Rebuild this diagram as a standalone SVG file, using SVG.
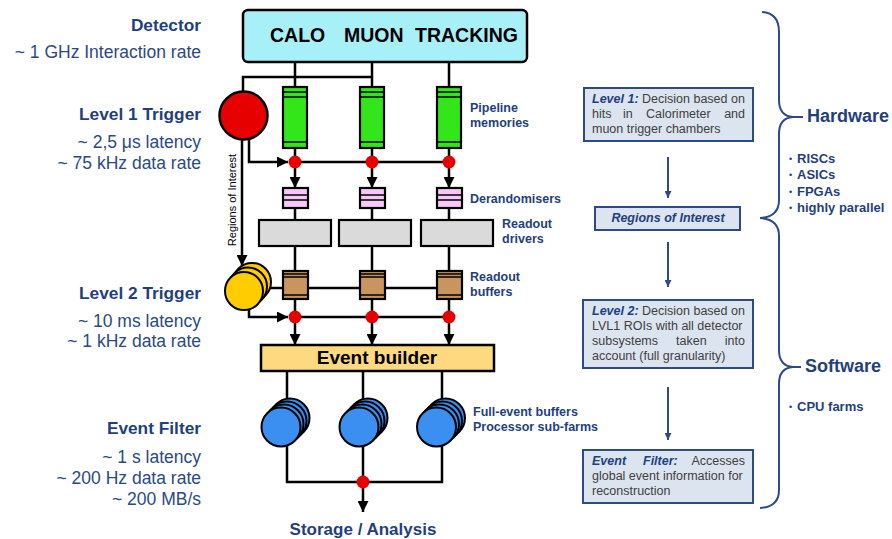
<svg xmlns="http://www.w3.org/2000/svg" width="892" height="539" viewBox="0 0 892 539">
<style>
  .ln{stroke:#000;stroke-width:2.5;fill:none}
  .box{stroke:#000;stroke-width:2.2}
  .in{stroke:#000;stroke-width:1.3}
  .dot{fill:#e60000}
  .lbl{font-family:"Liberation Sans",Arial,sans-serif;font-weight:bold;font-size:12.5px;fill:#1f3f7f}
  .lh{font-family:"Liberation Sans",Arial,sans-serif;font-weight:bold;font-size:17.3px;fill:#1f3f7f;text-anchor:end}
  .lr{font-family:"Liberation Sans",Arial,sans-serif;font-size:17.5px;fill:#2a4a85;text-anchor:end}
  .rb{fill:#dce4f0;stroke:#2e4a86;stroke-width:2}
  .rt{font-family:"Liberation Sans",Arial,sans-serif;font-size:12.5px;fill:#404040}
  .rh{font-weight:bold;font-style:italic;fill:#1f3f7f}
  .nav{stroke:#2e4a86;stroke-width:2;fill:none}
  .big{font-family:"Liberation Sans",Arial,sans-serif;font-weight:bold;font-size:18px;fill:#1f3f7f}
  .bul{font-family:"Liberation Sans",Arial,sans-serif;font-weight:bold;font-size:13px;fill:#1f3f7f}
  .bd{font-family:"Liberation Sans",Arial,sans-serif;font-size:9px;fill:#1f3f7f}
  .green{fill:#33e61a}.pink{fill:#f8c8f8}.grey{fill:#dadada}.brown{fill:#c8955e}
  .yel{fill:#ffcc00;stroke:#000;stroke-width:2}
  .blue{fill:#3a8ff0;stroke:#000;stroke-width:2}
</style>
<defs>
  <marker id="ah" viewBox="0 0 10 10" refX="10" refY="5" markerWidth="12" markerHeight="11" markerUnits="userSpaceOnUse" orient="auto">
    <path d="M0,0 L10,5 L0,10 z" fill="#000"/>
  </marker>
  <marker id="nh" viewBox="0 0 10 10" refX="10" refY="5" markerWidth="8" markerHeight="7" markerUnits="userSpaceOnUse" orient="auto">
    <path d="M0,0 L10,5 L0,10 z" fill="#2e4a86"/>
  </marker>
</defs>
<rect width="892" height="539" fill="#fff"/>

<g id="connectors">
  <path class="ln" d="M295,62 V87 M372,62 V87 M449,62 V87"/>
  <path class="ln" d="M243,92 V77 H373"/>
  <path class="ln" d="M295,148 V162 M372,148 V162 M449,148 V162"/>
  <path class="ln" d="M295,162 H449"/>
  <path class="ln" d="M249,138 V162 H288" marker-end="url(#ah)"/>
  <path class="ln" d="M295,168 V188" marker-end="url(#ah)"/>
  <path class="ln" d="M372,168 V188" marker-end="url(#ah)"/>
  <path class="ln" d="M449,168 V188" marker-end="url(#ah)"/>
  <path class="ln" d="M295,208 V271 M372,208 V271 M449,208 V271"/>
  <path class="ln" d="M242,139 V266" marker-end="url(#ah)"/>
  <path class="ln" d="M262,288 H449"/>
  <path class="ln" d="M295,299 V317 M372,299 V317 M449,299 V317"/>
  <path class="ln" d="M295,317 H449"/>
  <path class="ln" d="M249,309 V317 H288" marker-end="url(#ah)"/>
  <path class="ln" d="M295,323 V345" marker-end="url(#ah)"/>
  <path class="ln" d="M372,323 V345" marker-end="url(#ah)"/>
  <path class="ln" d="M449,323 V345" marker-end="url(#ah)"/>
  <path class="ln" d="M287,371 V402 M363,371 V402 M442,371 V402"/>
  <path class="ln" d="M287,445 V482 H442 V445 M363,445 V482"/>
  <path class="ln" d="M363,488 V512" marker-end="url(#ah)"/>
  <path class="nav" d="M668,157 V198" marker-end="url(#nh)"/>
  <path class="nav" d="M668,242 V287" marker-end="url(#nh)"/>
  <path class="nav" d="M668,387 V440" marker-end="url(#nh)"/>
  <path class="nav" d="M762,12 Q779,13 779,32 L779,100 Q779,116 793,117 L803,117 M793,117 Q779,118 779,134 L779,200 Q779,217 760,218"/>
  <path class="nav" d="M760,218 Q779,219 779,236 L779,350 Q779,366 793,367 L801,367 M793,367 Q779,368 779,384 L779,490 Q779,507 760,508"/>
</g>

<g id="detector">
  <rect x="243" y="10" width="284" height="52" rx="5" fill="#a8f0f8" stroke="#000" stroke-width="2.5"/>
  <g font-family="Liberation Sans,Arial,sans-serif" font-weight="bold" font-size="19.5" fill="#000">
    <text x="270" y="42">CALO</text>
    <text x="344" y="42">MUON</text>
    <text x="415" y="42">TRACKING</text>
  </g>
</g>

<g id="level1-trigger">
  <circle cx="243.5" cy="115.5" r="24" fill="#e60000" stroke="#000" stroke-width="2.5"/>
</g>

<g id="pipelines">
  <g><rect class="box green" x="283" y="87" width="24" height="61"/><path class="in" d="M283,92 H307 M283,97 H307 M283,142 H307"/></g>
  <g><rect class="box green" x="360" y="87" width="24" height="61"/><path class="in" d="M360,92 H384 M360,97 H384 M360,142 H384"/></g>
  <g><rect class="box green" x="437" y="87" width="24" height="61"/><path class="in" d="M437,92 H461 M437,97 H461 M437,142 H461"/></g>
  <text class="lbl" x="470" y="112">Pipeline</text>
  <text class="lbl" x="470" y="127">memories</text>
</g>

<g id="dots1">
  <circle class="dot" cx="295" cy="162" r="6.5"/>
  <circle class="dot" cx="372" cy="162" r="6.5"/>
  <circle class="dot" cx="449" cy="162" r="6.5"/>
</g>

<g id="derandomisers">
  <g><rect class="box pink" x="283" y="188" width="25" height="20"/><path class="in" d="M283,195 H308 M283,200 H308"/></g>
  <g><rect class="box pink" x="360" y="188" width="25" height="20"/><path class="in" d="M360,195 H385 M360,200 H385"/></g>
  <g><rect class="box pink" x="437" y="188" width="25" height="20"/><path class="in" d="M437,195 H462 M437,200 H462"/></g>
  <text class="lbl" x="470" y="203">Derandomisers</text>
</g>

<g id="readout-drivers">
  <rect class="box grey" x="259" y="220" width="72" height="26"/>
  <rect class="box grey" x="339" y="220" width="72" height="26"/>
  <rect class="box grey" x="421" y="220" width="72" height="26"/>
  <text class="lbl" x="502" y="228">Readout</text>
  <text class="lbl" x="502" y="243">drivers</text>
</g>

<g id="roi-label">
  <text transform="translate(235.5,200) rotate(-90)" text-anchor="middle" font-family="Liberation Sans,Arial,sans-serif" font-size="11" fill="#000">Regions of Interest</text>
</g>

<g id="level2-trigger">
  <circle class="yel" cx="252" cy="282" r="19"/>
  <circle class="yel" cx="248" cy="286.5" r="19"/>
  <circle class="yel" cx="244" cy="291" r="19"/>
</g>

<g id="readout-buffers">
  <g><rect class="box brown" x="283" y="271" width="25" height="28"/><path class="in" d="M283,274 H308 M283,277 H308 M283,295 H308"/></g>
  <g><rect class="box brown" x="360" y="271" width="25" height="28"/><path class="in" d="M360,274 H385 M360,277 H385 M360,295 H385"/></g>
  <g><rect class="box brown" x="437" y="271" width="25" height="28"/><path class="in" d="M437,274 H462 M437,277 H462 M437,295 H462"/></g>
  <text class="lbl" x="470" y="281">Readout</text>
  <text class="lbl" x="470" y="296">buffers</text>
</g>

<g id="dots2">
  <circle class="dot" cx="295" cy="317" r="6.5"/>
  <circle class="dot" cx="372" cy="317" r="6.5"/>
  <circle class="dot" cx="449" cy="317" r="6.5"/>
</g>

<g id="event-builder">
  <rect x="261" y="345" width="233" height="26" fill="#ffd980" stroke="#000" stroke-width="2.5"/>
  <text x="377" y="364" text-anchor="middle" font-family="Liberation Sans,Arial,sans-serif" font-weight="bold" font-size="19" fill="#000">Event builder</text>
</g>

<g id="processor-farms">
  <g>
    <circle class="blue" cx="290" cy="418" r="19.5"/><circle class="blue" cx="287" cy="421" r="19.5"/><circle class="blue" cx="284" cy="424" r="19.5"/><circle class="blue" cx="281" cy="427" r="19.5"/>
  </g>
  <g>
    <circle class="blue" cx="368" cy="418" r="19.5"/><circle class="blue" cx="365" cy="421" r="19.5"/><circle class="blue" cx="362" cy="424" r="19.5"/><circle class="blue" cx="359" cy="427" r="19.5"/>
  </g>
  <g>
    <circle class="blue" cx="445.5" cy="418" r="19.5"/><circle class="blue" cx="442.5" cy="421" r="19.5"/><circle class="blue" cx="439.5" cy="424" r="19.5"/><circle class="blue" cx="436.5" cy="427" r="19.5"/>
  </g>
  <text class="lbl" x="473" y="416">Full-event buffers</text>
  <text class="lbl" x="473" y="431">Processor sub-farms</text>
</g>

<g id="storage">
  <circle class="dot" cx="363" cy="482" r="6.5"/>
  <text x="363" y="535" text-anchor="middle" font-family="Liberation Sans,Arial,sans-serif" font-weight="bold" font-size="17" fill="#1f3f7f">Storage / Analysis</text>
</g>

<g id="left-labels">
  <text class="lh" x="201" y="31">Detector</text>
  <text class="lr" x="201" y="58">~ 1 GHz Interaction rate</text>
  <text class="lh" x="201" y="120">Level 1 Trigger</text>
  <text class="lr" x="201" y="148">~ 2,5 μs latency</text>
  <text class="lr" x="201" y="169">~ 75 kHz data rate</text>
  <text class="lh" x="201" y="299">Level 2 Trigger</text>
  <text class="lr" x="201" y="327">~ 10 ms latency</text>
  <text class="lr" x="201" y="347">~ 1 kHz data rate</text>
  <text class="lh" x="201" y="434">Event Filter</text>
  <text class="lr" x="201" y="463">~ 1 s latency</text>
  <text class="lr" x="201" y="484">~ 200 Hz data rate</text>
  <text class="lr" x="201" y="505">~ 200 MB/s</text>
</g>

<g id="level1-box">
  <rect class="rb" x="584" y="88" width="169" height="53"/>
  <text class="rt" x="592" y="103"><tspan class="rh">Level 1:</tspan> Decision based on</text>
  <text class="rt" x="592" y="118">hits</text>
  <text class="rt" x="623" y="118">in</text>
  <text class="rt" x="646" y="118">Calorimeter</text>
  <text class="rt" x="745" y="118" text-anchor="end">and</text>
  <text class="rt" x="592" y="133">muon trigger chambers</text>
</g>

<g id="roi-box">
  <rect class="rb" x="595" y="207" width="145" height="23"/>
  <text class="rt rh" x="668" y="222" text-anchor="middle">Regions of Interest</text>
</g>

<g id="level2-box">
  <rect class="rb" x="583" y="300" width="170" height="68"/>
  <text class="rt" x="592" y="315"><tspan class="rh">Level 2:</tspan> Decision based on</text>
  <text class="rt" x="592" y="330">LVL1 ROIs with all detector</text>
  <text class="rt" x="592" y="345">subsystems</text>
  <text class="rt" x="676" y="345">taken</text>
  <text class="rt" x="745" y="345" text-anchor="end">into</text>
  <text class="rt" x="592" y="360">account (full granularity)</text>
</g>

<g id="eventfilter-box">
  <rect class="rb" x="583" y="450" width="170" height="53"/>
  <text class="rt rh" x="592" y="465">Event</text>
  <text class="rt rh" x="643" y="465">Filter:</text>
  <text class="rt" x="745" y="465" text-anchor="end">Accesses</text>
  <text class="rt" x="592" y="480">global event information for</text>
  <text class="rt" x="592" y="495">reconstruction</text>
</g>

<g id="hardware">
  <text class="big" x="807" y="122">Hardware</text>
  <text class="bd" x="789" y="162">•</text><text class="bul" x="797" y="163">RISCs</text>
  <text class="bd" x="789" y="178">•</text><text class="bul" x="797" y="179">ASICs</text>
  <text class="bd" x="789" y="195">•</text><text class="bul" x="797" y="196">FPGAs</text>
  <text class="bd" x="789" y="211">•</text><text class="bul" x="797" y="212">highly parallel</text>
</g>

<g id="software">
  <text class="big" x="805" y="372">Software</text>
  <text class="bd" x="789" y="410">•</text><text class="bul" x="797" y="411">CPU farms</text>
</g>
</svg>
